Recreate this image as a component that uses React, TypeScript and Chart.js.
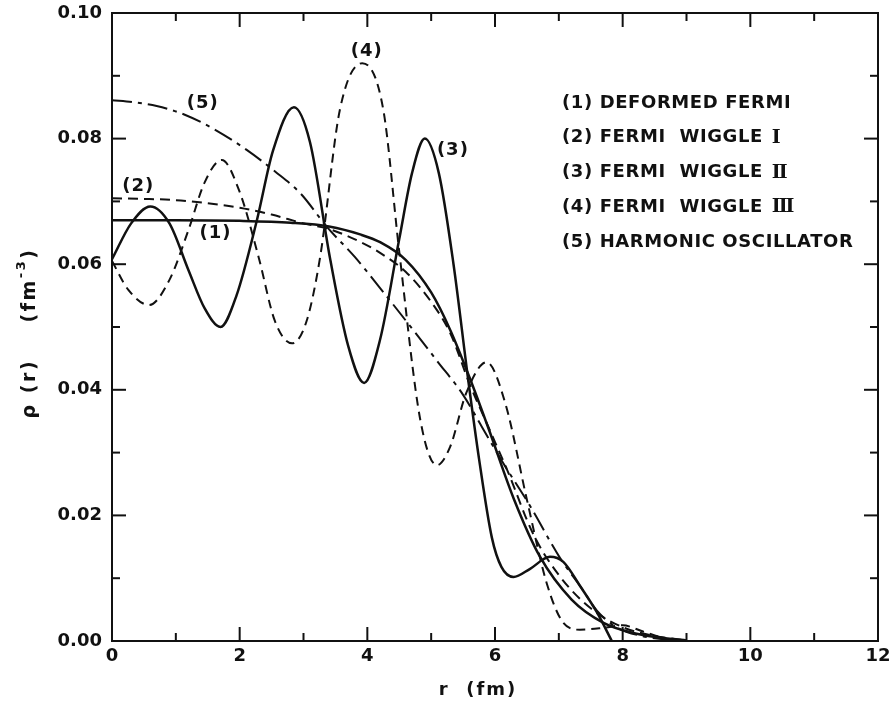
import React, { useEffect, useRef } from 'react';
import { Chart, registerables } from 'chart.js';

Chart.register(...registerables);

// ---- data ----
const xTickValues = [0, 2, 4, 6, 8, 10, 12];
const yTickValues = [0, 0.02, 0.04, 0.06, 0.08, 0.1];

// (1) Deformed Fermi
const r1 = [0, 1, 2, 2.8, 3.4, 3.9, 4.2, 4.6, 5.0, 5.3, 5.6, 5.9, 6.3, 6.7, 7.2, 7.7, 8.2, 8.7, 9.0];
const rho1 = [0.0670, 0.0670, 0.0669, 0.0666, 0.0660, 0.0647, 0.0635, 0.0607, 0.0555, 0.0495, 0.0420, 0.0338, 0.0225, 0.0135, 0.0066, 0.0029, 0.0012, 0.0004, 0.0001];

// (2) Fermi wiggle I
const r2 = [0, 0.5, 1, 1.5, 2, 2.5, 3, 3.4, 3.9, 4.2, 4.6, 5.0, 5.3, 5.6, 5.9, 6.2, 6.6, 7.0, 7.5, 8.0, 8.5, 9.0];
const rho2 = [0.0705, 0.0704, 0.0702, 0.0697, 0.0690, 0.0679, 0.0665, 0.0656, 0.0635, 0.0618, 0.0588, 0.0540, 0.0490, 0.0410, 0.0340, 0.0270, 0.0170, 0.0105, 0.0052, 0.0022, 0.0008, 0.0001];

// (3) Fermi wiggle II
const r3 = [0, 0.3, 0.6, 0.9, 1.2, 1.45, 1.7, 1.95, 2.27, 2.52, 2.85, 3.1, 3.42, 3.7, 3.95, 4.2, 4.5, 4.7, 4.9, 5.12, 5.35, 5.58, 5.75, 5.95, 6.1, 6.29, 6.55, 6.86, 7.07, 7.33, 7.6, 7.83];
const rho3 = [0.0608, 0.0665, 0.0692, 0.0665, 0.0590, 0.0530, 0.0500, 0.0550, 0.0670, 0.0780, 0.0850, 0.0795, 0.0607, 0.0470, 0.0411, 0.0480, 0.0640, 0.0745, 0.0800, 0.0745, 0.0600, 0.0416, 0.0290, 0.0165, 0.0118, 0.0102, 0.0115, 0.0134, 0.0126, 0.0088, 0.0045, 0.0000];

// (4) Fermi wiggle III
const r4 = [0, 0.25, 0.58, 0.9, 1.2, 1.45, 1.72, 2.0, 2.3, 2.55, 2.82, 3.05, 3.26, 3.57, 3.92, 4.25, 4.5, 4.83, 5.09, 5.3, 5.55, 5.87, 6.16, 6.5, 6.81, 7.07, 7.33, 7.7, 8.0, 8.32, 8.74, 8.9];
const rho4 = [0.0605, 0.0560, 0.0535, 0.0575, 0.0655, 0.0730, 0.0766, 0.0715, 0.0610, 0.0510, 0.0474, 0.0510, 0.0611, 0.0846, 0.0920, 0.0846, 0.0620, 0.0352, 0.0280, 0.0310, 0.0395, 0.0444, 0.0379, 0.0225, 0.0092, 0.0029, 0.0018, 0.0021, 0.0025, 0.0015, 0.0002, 0.0000];

// (5) Harmonic oscillator
const r5 = [0, 0.33, 0.7, 1.14, 1.6, 2.11, 2.55, 2.95, 3.37, 3.8, 4.2, 4.72, 5.1, 5.5, 5.8, 6.13, 6.55, 7.02, 7.33, 7.6, 7.9, 8.3, 8.8];
const rho5 = [0.0861, 0.0858, 0.0852, 0.0838, 0.0815, 0.0782, 0.0748, 0.0713, 0.0659, 0.0612, 0.0562, 0.0495, 0.0445, 0.0392, 0.0340, 0.0283, 0.0215, 0.0132, 0.0088, 0.0048, 0.0022, 0.0008, 0.0001];

const curveTags = ['(1)', '(2)', '(3)', '(4)', '(5)'];
const legendNames = ['(1) DEFORMED FERMI', '(2) FERMI  WIGGLE ', '(3) FERMI  WIGGLE ', '(4) FERMI  WIGGLE ', '(5) HARMONIC OSCILLATOR'];
const legendNumerals = ['', 'I', 'II', 'III', ''];
const xTitle = 'r  (fm)';
const yTitleMain = 'ρ (r)    (fm';
const yTitleSup = '-3';
const yTitleEnd = ')';

// ---- presentation ----
const INK = '#111';
const FONT = '"DejaVu Sans"';
const tagAnchors = [
  [1.62, 0.0650],
  [0.41, 0.0726],
  [5.34, 0.0783],
  [3.99, 0.0940],
  [1.42, 0.0857],
];

const decor = {
  id: 'decor',
  afterDraw(chart: any) {
    const { ctx, chartArea: a, scales } = chart;
    const xs = scales.x;
    const ys = scales.y;
    ctx.save();
    ctx.strokeStyle = INK;
    ctx.fillStyle = INK;
    ctx.lineWidth = 2;
    ctx.setLineDash([]);
    ctx.strokeRect(a.left, a.top, a.right - a.left, a.bottom - a.top);
    const seg = (x1: number, y1: number, x2: number, y2: number) => {
      ctx.beginPath();
      ctx.moveTo(x1, y1);
      ctx.lineTo(x2, y2);
      ctx.stroke();
    };
    for (let v = 1; v < 12; v++) {
      const px = xs.getPixelForValue(v);
      const len = v % 2 === 0 ? 14 : 8;
      seg(px, a.bottom, px, a.bottom - len);
      seg(px, a.top, px, a.top + len);
    }
    for (let k = 1; k < 10; k++) {
      const py = ys.getPixelForValue(k / 100);
      const len = k % 2 === 0 ? 14 : 8;
      seg(a.left, py, a.left + len, py);
      seg(a.right, py, a.right - len, py);
    }

    // curve tags
    ctx.font = `bold 18px ${FONT}`;
    (ctx as any).letterSpacing = '1px';
    ctx.textAlign = 'center';
    ctx.textBaseline = 'middle';
    curveTags.forEach((t, i) => {
      ctx.fillText(t, xs.getPixelForValue(tagAnchors[i][0]), ys.getPixelForValue(tagAnchors[i][1]) + 1);
    });

    // legend text block
    ctx.textAlign = 'left';
    const lx = a.left + 450;
    const ly0 = a.top + 90;
    legendNames.forEach((name, i) => {
      const y = ly0 + i * 34.8;
      ctx.font = `bold 18px ${FONT}`;
      (ctx as any).letterSpacing = '0.6px';
      ctx.fillText(name, lx, y);
      if (legendNumerals[i]) {
        const w = ctx.measureText(name).width;
        ctx.font = `bold 19px "DejaVu Serif"`;
        (ctx as any).letterSpacing = '-2px';
        ctx.fillText(legendNumerals[i], lx + w + 2, y);
      }
    });

    // x title
    ctx.font = `bold 18px ${FONT}`;
    (ctx as any).letterSpacing = '2px';
    ctx.textAlign = 'center';
    ctx.fillText(xTitle, 478, 690);

    // y title (rotated)
    ctx.translate(30, 333);
    ctx.rotate(-Math.PI / 2);
    ctx.textAlign = 'left';
    (ctx as any).letterSpacing = '2.5px';
    ctx.font = `bold 19px ${FONT}`;
    const w1 = ctx.measureText(yTitleMain).width;
    ctx.font = `bold 13px ${FONT}`;
    const w2 = ctx.measureText(yTitleSup).width;
    ctx.font = `bold 19px ${FONT}`;
    const w3 = ctx.measureText(yTitleEnd).width;
    let sx = -(w1 + w2 + w3) / 2;
    ctx.fillText(yTitleMain, sx, 0);
    sx += w1;
    ctx.font = `bold 13px ${FONT}`;
    ctx.fillText(yTitleSup, sx, -8);
    sx += w2;
    ctx.font = `bold 19px ${FONT}`;
    ctx.fillText(yTitleEnd, sx, 0);
    ctx.restore();
  },
};

function pts(rs: number[], vs: number[]) {
  return rs.map((r, i) => ({ x: r, y: vs[i] }));
}

export default function App() {
  const ref = useRef<HTMLCanvasElement>(null);
  useEffect(() => {
    const base = {
      borderColor: INK,
      pointRadius: 0,
      fill: false,
      cubicInterpolationMode: 'monotone' as const,
    };
    const chart = new Chart(ref.current!, {
      type: 'line',
      data: {
        datasets: [
          { ...base, label: legendNames[0], data: pts(r1, rho1), borderWidth: 2.5 },
          { ...base, label: legendNames[1], data: pts(r2, rho2), borderWidth: 2, borderDash: [10, 6] },
          { ...base, label: legendNames[2], data: pts(r3, rho3), borderWidth: 2.5 },
          { ...base, label: legendNames[3], data: pts(r4, rho4), borderWidth: 2, borderDash: [9, 6] },
          { ...base, label: legendNames[4], data: pts(r5, rho5), borderWidth: 2, borderDash: [20, 6, 4, 6] },
        ],
      },
      options: {
        responsive: false,
        animation: false,
        devicePixelRatio: 1,
        layout: { padding: { top: 13, right: 13, left: 0, bottom: 0 } },
        plugins: { legend: { display: false }, tooltip: { enabled: false } },
        scales: {
          x: {
            type: 'linear',
            min: 0,
            max: 12,
            afterFit: (s: any) => { s.height = 63; },
            afterBuildTicks: (s: any) => { s.ticks = xTickValues.map((v) => ({ value: v })); },
            grid: { display: false, drawTicks: true, tickLength: 5 },
            border: { display: false },
            ticks: {
              padding: 0,
              color: INK,
              font: { family: FONT, size: 18, weight: 'bold' },
              callback: (v: any) => String(v),
            },
          },
          y: {
            type: 'linear',
            min: 0,
            max: 0.1,
            afterFit: (s: any) => { s.width = 112; },
            afterBuildTicks: (s: any) => { s.ticks = yTickValues.map((v) => ({ value: v })); },
            grid: { display: false, drawTicks: true, tickLength: 10 },
            border: { display: false },
            ticks: {
              padding: 0,
              color: INK,
              font: { family: FONT, size: 18, weight: 'bold' },
              callback: (v: any) => Number(v).toFixed(2),
            },
          },
        },
      },
      plugins: [decor],
    } as any);
    return () => chart.destroy();
  }, []);
  return (
    <div style={{ position: 'absolute', left: 0, top: 0, width: 891, height: 704, background: '#fff' }}>
      <canvas ref={ref} width={891} height={704} style={{ display: 'block' }} />
    </div>
  );
}
